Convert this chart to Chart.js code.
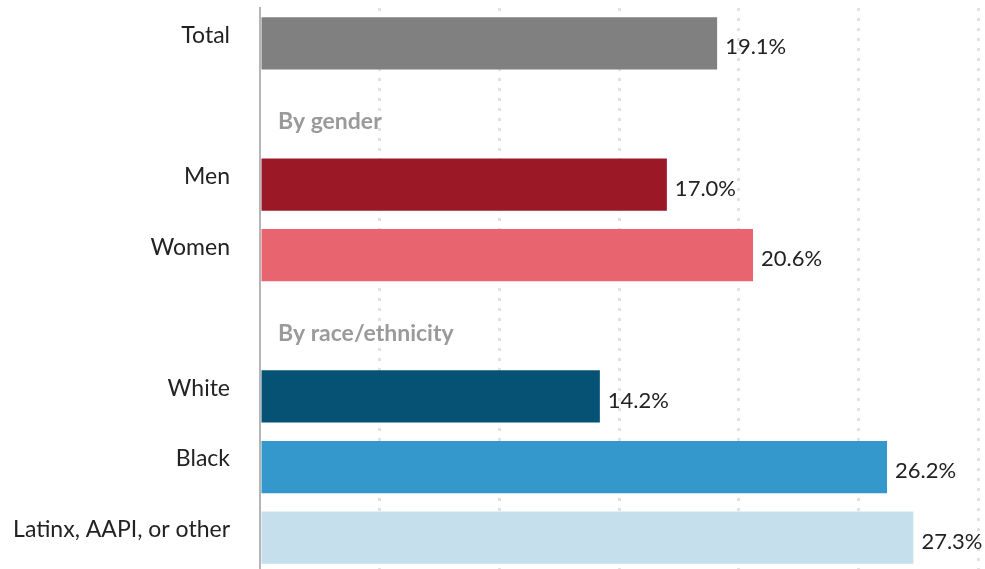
<!DOCTYPE html>
<html>
<head>
<meta charset="utf-8">
<script src="https://cdn.jsdelivr.net/npm/chart.js@4.4.1/dist/chart.umd.min.js"></script>
<style>
  html, body { margin: 0; padding: 0; background: #fff; overflow: hidden; }
  #wrap { width: 985px; height: 573px; }
</style>
</head>
<body>
<div id="wrap"><canvas id="chart"></canvas></div>
<script>
// rows of the chart; empty label = section header row
const categories = ["Total", "", "Men", "Women", "", "White", "Black", "Latinx, AAPI, or other"];
const values = [19.1, null, 17.0, 20.6, null, 14.2, 26.2, 27.3];
const barColors = ["#808080", "#fff", "#9b1826", "#e8646f", "#fff", "#055275", "#3598cc", "#c5dfec"];
const headers = ["", "By gender", "", "", "By race/ethnicity", "", "", ""];
const xTicks = [0, 5, 10, 15, 20, 25, 30];

const FONT = "Lato, 'Open Sans', sans-serif";

// draws the value labels and the grey section headers
const labelPlugin = {
  id: "labels",
  afterDatasetsDraw(chart) {
    const ctx = chart.ctx;
    const x = chart.scales.x;
    const y = chart.scales.y;
    ctx.save();
    ctx.textBaseline = "middle";
    values.forEach((v, i) => {
      if (v === null) return;
      ctx.font = "22px " + FONT;
      ctx.fillStyle = "#222";
      ctx.textAlign = "left";
      ctx.fillText(v.toFixed(1) + "%", x.getPixelForValue(v) + 8, y.getPixelForValue(i) + 4);
    });
    headers.forEach((h, i) => {
      if (!h) return;
      ctx.font = "bold 23px " + FONT;
      ctx.fillStyle = "#9a9a9a";
      ctx.textAlign = "left";
      ctx.fillText(h, x.getPixelForValue(0) + 18, y.getPixelForValue(i) + 8);
    });
    ctx.restore();
  }
};

new Chart(document.getElementById("chart").getContext("2d"), {
  type: "bar",
  data: {
    labels: categories,
    datasets: [
      {
        data: values,
        backgroundColor: barColors,
        borderWidth: 0,
        barPercentage: 0.74,
        categoryPercentage: 1,
      },
    ],
  },
  options: {
    indexAxis: "y",
    responsive: true,
    maintainAspectRatio: false,
    animation: false,
    layout: { padding: { top: 8, right: 7, bottom: 0, left: 0 } },
    plugins: {
      legend: { display: false },
      tooltip: { enabled: false },
    },
    scales: {
      x: {
        min: 0,
        max: 30,
        afterBuildTicks: (scale) => {
          scale.ticks = xTicks.map((v) => ({ value: v }));
        },
        ticks: { display: false },
        grid: {
          drawTicks: false,
          lineWidth: 3,
          color: (c) => (c.tick && c.tick.value === 0 ? "rgba(0,0,0,0)" : "#e2e2e2"),
        },
        border: { display: false, dash: [3, 7] },
      },
      y: {
        afterFit: (scale) => {
          scale.width = 260;
          scale.paddingTop = 0;
          scale.paddingBottom = 0;
        },
        ticks: {
          padding: 30,
          labelOffset: -8,
          color: "#222",
          font: { family: FONT, size: 23 },
        },
        grid: { display: false, drawTicks: false },
        border: { display: true, color: "#b5b5b5", width: 2 },
      },
    },
  },
  plugins: [labelPlugin],
});
</script>
</body>
</html>
